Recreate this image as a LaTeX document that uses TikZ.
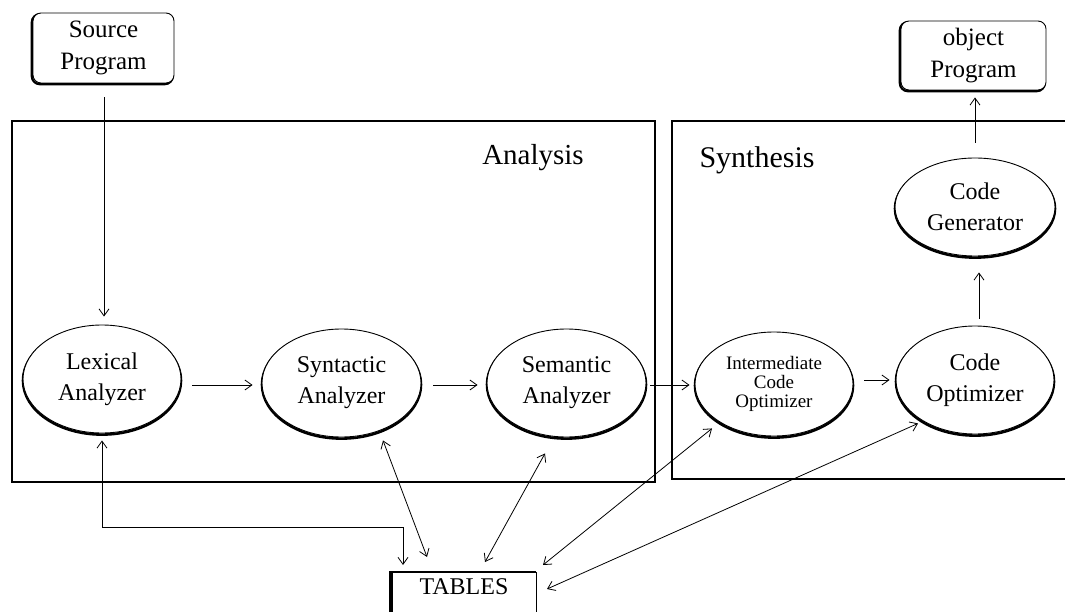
\documentclass[tikz,border=0pt]{standalone}
\usepackage{fontspec}
\setmainfont{Liberation Serif}
\usetikzlibrary{shapes.geometric,arrows.meta}
\tikzset{
  ell/.style={ellipse, draw, fill=white, line width=0.9pt, align=center, inner sep=0pt,
    minimum width=158pt, minimum height=108pt, font=\fontsize{24}{31}\selectfont,
    preaction={draw, line width=2.6pt, transform canvas={yshift=-1.6pt}}},
  pbox/.style={draw, fill=white, rounded corners=8pt, line width=0.9pt, align=center,
    inner sep=0pt, font=\fontsize{25}{32}\selectfont,
    preaction={draw, line width=2.2pt, transform canvas={shift={(-1.2pt,-1.2pt)}}}},
  frame/.style={draw, line width=1.2pt},
  lbl/.style={font=\fontsize{29}{34}\selectfont, inner sep=0pt},
  arr/.style={-{Straight Barb[length=7pt,width=10pt]}, line width=0.8pt},
  dbl/.style={{Straight Barb[length=7pt,width=10pt]}-{Straight Barb[length=7pt,width=10pt]}, line width=0.8pt},
}
\begin{document}
\begin{tikzpicture}[x=1pt,y=-1pt]
\useasboundingbox (0,0) rectangle (1065,612);
\clip (0,0) rectangle (1065,612);
\fill[white] (0,0) rectangle (1065,612);

% frames
\draw[frame] (12,121) rectangle (655,482);
\draw[frame] (672,121) rectangle (1090,479);
\node[lbl] (analysis) at (533,158) {Analysis};
\node[lbl, font=\fontsize{30}{34}\selectfont] (synthesis) at (757,160) {Synthesis};

% program boxes
\node[pbox, minimum width=141pt, minimum height=70pt] (src) at (103.5,48) {Source\\Program};
\node[pbox, minimum width=145pt, minimum height=69pt] (obj) at (973.5,55.5) {object\\Program};

% ellipses
\node[ell] (lex) at (102,379) {Lexical\\Analyzer};
\node[ell, minimum width=159pt] (syn) at (341.5,383) {Syntactic\\Analyzer};
\node[ell, minimum width=159pt] (sem) at (566.5,383) {Semantic\\Analyzer};
\node[ell, minimum height=104pt, font=\fontsize{19}{19}\selectfont] (int) at (774,384) {Intermediate\\Code\\Optimizer};
\node[ell] (cop) at (975,380) {Code\\Optimizer};
\node[ell, minimum width=160pt, minimum height=98pt] (cgen) at (975,207) {Code\\Generator};

% tables box
\node[draw, fill=white, line width=0.9pt, anchor=north, minimum width=144pt,
      inner xsep=0pt, inner ysep=5pt, text height=17pt, text depth=35pt,
      font=\fontsize{24}{28}\selectfont,
      preaction={draw, line width=2.6pt, transform canvas={xshift=-1.4pt}}] (tab) at (464,572) {TABLES};

% flow arrows
\draw[arr] ([shift={(0.5,14)}]src.south) -- ([shift={(2,-8)}]lex.north);
\draw[arr] ([shift={(11,6)}]lex.east) -- ([shift={(-9,2)}]syn.west);
\draw[arr] ([shift={(12,2)}]syn.east) -- ([shift={(-9,2)}]sem.west);
\draw[arr] ([shift={(4,2)}]sem.east) -- ([shift={(-5,1)}]int.west);
\draw[arr] ([shift={(11,-4)}]int.east) -- ([shift={(-6,0)}]cop.west);
\draw[arr] ([shift={(4,-7)}]cop.north) -- ([shift={(4,16)}]cgen.south);
\draw[arr] ([shift={(0,-15)}]cgen.north) -- ([shift={(1.5,7)}]obj.south);

% table connections
\draw[dbl] ([shift={(0,7)}]lex.south) |- ([shift={(-61,-45)}]tab.north) -- ([shift={(-61,-7)}]tab.north);
\draw[dbl] ([shift={(41.5,3)}]syn.south) -- ([shift={(-37,-15)}]tab.north);
\draw[dbl] ([shift={(-21.5,16)}]sem.south) -- ([shift={(21,-10)}]tab.north);
\draw[dbl] ([shift={(-62,-8)}]int.south) -- ([shift={(79,-7)}]tab.north);
\draw[dbl] ([shift={(-57,-11)}]cop.south) -- ([shift={(83,17)}]tab.north);
\end{tikzpicture}
\end{document}
